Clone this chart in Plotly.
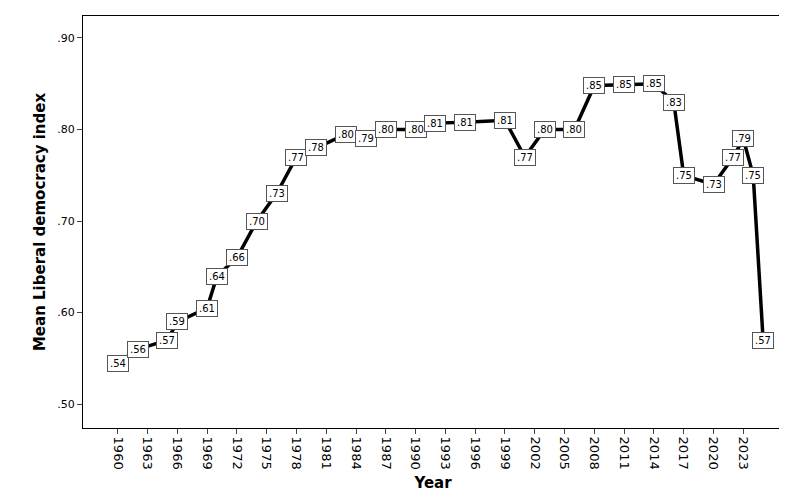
import plotly.graph_objects as go

years = [1960, 1962, 1965, 1966, 1969, 1970, 1972, 1974, 1976, 1978, 1980, 1983, 1985, 1987, 1990,
         1992, 1995, 1999, 2001, 2003, 2006, 2008, 2011, 2014, 2016, 2017, 2020, 2022, 2023, 2024, 2025]
values = [0.545, 0.56, 0.57, 0.59, 0.605, 0.64, 0.66, 0.70, 0.73, 0.77, 0.78, 0.795, 0.79, 0.80, 0.80,
          0.807, 0.808, 0.81, 0.77, 0.80, 0.80, 0.848, 0.849, 0.85, 0.83, 0.75, 0.74, 0.77, 0.79, 0.75, 0.57]
labels = [".54", ".56", ".57", ".59", ".61", ".64", ".66", ".70", ".73", ".77", ".78", ".80", ".79", ".80", ".80",
          ".81", ".81", ".81", ".77", ".80", ".80", ".85", ".85", ".85", ".83", ".75", ".73", ".77", ".79", ".75", ".57"]
xticks = list(range(1960, 2024, 3))
yticks = [0.5, 0.6, 0.7, 0.8, 0.9]
yticklabels = [".50", ".60", ".70", ".80", ".90"]

fig = go.Figure(go.Scatter(x=years, y=values, mode="lines",
                           line=dict(color="black", width=3.5), hoverinfo="skip"))
for x, y, t in zip(years, values, labels):
    fig.add_annotation(x=x, y=y, text=t, showarrow=False, bgcolor="white",
                       bordercolor="#555", borderwidth=1, borderpad=2,
                       font=dict(family="DejaVu Sans", size=10, color="black"))

fig.update_layout(
    width=787, height=497, plot_bgcolor="white", paper_bgcolor="white",
    margin=dict(l=75, r=12, t=8, b=77, autoexpand=False), showlegend=False,
    font=dict(family="DejaVu Sans", color="black"),
    xaxis=dict(range=[1956.5, 2027], tickvals=xticks, ticktext=[str(v) for v in xticks],
               tickangle=90, ticks="outside", ticklen=5, showgrid=False, showline=True,
               linecolor="black", mirror=True, tickfont=dict(size=13),
               title=dict(text="<b>Year</b>", font=dict(size=15), standoff=8)),
    yaxis=dict(range=[0.474, 0.924], tickvals=yticks, ticktext=yticklabels,
               ticks="outside", ticklen=5, showgrid=False, showline=True,
               linecolor="black", mirror=True, tickfont=dict(size=11),
               title=dict(text="<b>Mean Liberal democracy index</b>", font=dict(size=15), standoff=8)),
)
fig.write_html("out.html")
